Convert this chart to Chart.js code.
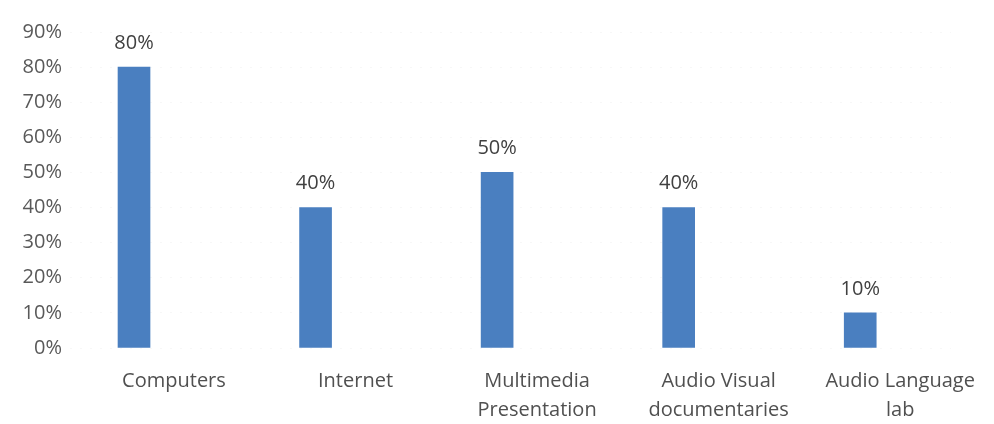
<!DOCTYPE html>
<html>
<head>
<meta charset="utf-8">
<script src="https://cdn.jsdelivr.net/npm/chart.js@4"></script>
<style>
  html, body { margin: 0; padding: 0; background: #ffffff; }
  #wrap { width: 994px; height: 424px; }
</style>
</head>
<body>
<div id="wrap"><canvas id="grafico" width="994" height="424"></canvas></div>
<script>
const categorias = [
    "Computers",
    "Internet",
    ["Multimedia", "Presentation"],
    ["Audio Visual", "documentaries"],
    ["Audio Language", "lab"]
];
const valores = [80, 40, 50, 40, 10];
const rotulosValores = ["80%", "40%", "50%", "40%", "10%"];
const ticksY = [0, 10, 20, 30, 40, 50, 60, 70, 80, 90];

const fonte = "'Open Sans', sans-serif";
// os nomes ficam um pouco a direita das barras, como no original
const deslocRotulo = 0.22;

const rotulosBarras = {
    id: 'rotulosBarras',
    afterDatasetsDraw(chart) {
        const ctx = chart.ctx;
        const meta = chart.getDatasetMeta(0);
        ctx.save();
        ctx.font = "20px " + fonte;
        ctx.fillStyle = "#404040";
        ctx.textAlign = "center";
        ctx.textBaseline = "middle";
        meta.data.forEach((barra, i) => {
            ctx.fillText(rotulosValores[i], barra.x, barra.y - 24);
        });
        ctx.restore();
    }
};

const grafico = new Chart(document.getElementById("grafico"), {
    type: 'bar',
    data: {
        datasets: [{
            data: valores.map((v, i) => ({ x: i, y: v })),
            backgroundColor: '#4a7fc0',
            borderWidth: 0,
            barThickness: 32
        }]
    },
    options: {
        responsive: false,
        animation: false,
        layout: { padding: { top: 32, right: 43, left: 0, bottom: 0 } },
        plugins: {
            legend: { display: false },
            tooltip: { enabled: false }
        },
        scales: {
            x: {
                type: 'linear',
                offset: false,
                min: -0.3526,
                max: 4.5,
                afterFit: s => { s.height = 76; s.paddingRight = 0; s.paddingLeft = 0; },
                afterBuildTicks: s => { s.ticks = categorias.map((c, i) => ({ value: i + deslocRotulo })); },
                grid: { display: false, offset: false },
                border: { display: false },
                ticks: {
                    autoSkip: false,
                    maxRotation: 0,
                    padding: 11,
                    color: '#505050',
                    font: { family: fonte, size: 20, lineHeight: 1.45 },
                    callback: (v) => categorias[Math.round(v - deslocRotulo)]
                }
            },
            y: {
                min: 0,
                max: 90,
                afterFit: s => { s.width = 70; },
                afterBuildTicks: s => { s.ticks = ticksY.map(v => ({ value: v })); },
                grid: { color: 'rgba(0,0,0,0.03)', drawTicks: false },
                border: { display: false, dash: [2, 8] },
                ticks: {
                    padding: 8,
                    color: '#595959',
                    font: { family: fonte, size: 20 },
                    callback: v => v + '%'
                }
            }
        }
    },
    plugins: [rotulosBarras]
});
</script>
</body>
</html>
